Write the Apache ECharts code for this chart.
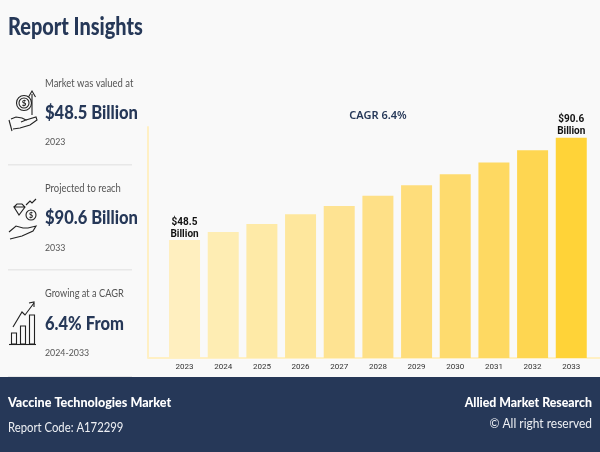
<!DOCTYPE html>
<html>
<head>
<meta charset="utf-8">
<style>html,body{margin:0;padding:0;background:#f9f9f9}#main{width:600px;height:452px}</style>
<script src="https://cdn.jsdelivr.net/npm/echarts@6/dist/echarts.min.js"></script>
</head>
<body>
<div id="main"></div>
<script>
var years=['2023','2024','2025','2026','2027','2028','2029','2030','2031','2032','2033'];
var marketValues=[48.5,51.8,55.1,59.1,62.5,66.7,71,75.6,80.4,85.4,90.6];
var barLabels={'2023':'$48.5\nBillion','2033':'$90.6\nBillion'};
var barColors=['#ffefbf','#feedb3','#feeaa7','#fee79d','#fee392','#fee087','#fedd7b','#fedb6e','#fed962','#fed651','#ffd338'];

var navy='#263858',grey='#555555',ink='#222222',font='Lato',labelFont='Roboto';

// squeeze = horizontal scale, the original lettering is narrower than Lato
function text(x,y,str,size,weight,color,align,squeeze,family){
    return {type:'text',x:x,y:y,scaleX:squeeze||1,silent:true,style:{text:str,fontFamily:family||font,fontSize:size,fontWeight:weight,fill:color,align:align||'left',verticalAlign:'middle'}};
}
function stroke(points){
    return {type:'polyline',silent:true,shape:{points:points},style:{stroke:ink,lineWidth:1.1,fill:null}};
}
function ring(x,y,r){
    return {type:'circle',silent:true,shape:{cx:x,cy:y,r:r},style:{stroke:ink,lineWidth:1.1,fill:'none'}};
}
function bar(x,y,w,h){
    return {type:'rect',silent:true,shape:{x:x,y:y,width:w,height:h},style:{stroke:ink,lineWidth:1.1,fill:'none'}};
}
function block(x,y,w,h,color){
    return {type:'rect',silent:true,shape:{x:x,y:y,width:w,height:h},style:{fill:color}};
}

var panel=[
    text(8,27,'Report Insights',24,900,navy,'left',0.83),
    text(45,84,'Market was valued at',10.5,400,grey,'left',0.9),
    text(45,113,'$48.5 Billion',19,900,navy,'left',0.87),
    text(45,142,'2023',10,400,grey,'left',0.88),
    block(8,164,124,1.5,'#e8e8e8'),
    text(45,189,'Projected to reach',10.5,400,grey,'left',0.9),
    text(45,218,'$90.6 Billion',19,900,navy,'left',0.87),
    text(45,248,'2033',10,400,grey,'left',0.88),
    block(8,269,124,1.5,'#e8e8e8'),
    text(45,294,'Growing at a CAGR',10.5,400,grey,'left',0.88),
    text(45,324,'6.4% From',19,900,navy,'left',0.87),
    text(45,353,'2024-2033',10,400,grey,'left',0.88),
    block(8,376,124,1,'#e8e8e8'),
    block(148,357,452,2,'#fff0c4'),
    text(378,116,'CAGR 6.4%',11,600,navy,'center',1,'"Noto Sans"'),
    block(0,377,600,75,navy),
    text(8,403,'Vaccine Technologies Market',13.5,900,'#ffffff','left',0.93),
    text(8,428,'Report Code: A172299',13,400,'#eef0f4','left',0.87),
    text(592,403,'Allied Market Research',13.5,900,'#ffffff','right',0.91),
    text(592,424,'\u00a9 All right reserved',13,400,'#eef0f4','right',0.92)
];

var icons=[
    // coin in hand
    ring(24,103,7.5),ring(24,103,5),text(24,103.5,'$',8,700,ink,'center'),
    stroke([[32,115],[32,94]]),stroke([[28.5,97],[32,91],[35.5,97]]),
    stroke([[9,120],[12,131]]),
    stroke([[11,119],[16,117],[22,118],[26,120],[21,122]]),
    stroke([[26,120],[36,117],[37,120],[30,125],[20,128],[13,129]]),
    // gem and coin in hand
    stroke([[14,207],[17,204],[22,204],[25,207],[19,215],[14,207],[25,207]]),
    ring(31,215,5),text(31,215.5,'$',7,700,ink,'center'),
    stroke([[26,205],[30,201],[32,203],[36,199]]),
    stroke([[9,232],[16,226],[23,228],[28,228],[36,226],[33,231],[22,236],[10,239]]),
    // growing bars
    bar(11.5,333,5,11),bar(20.5,326,5,18),bar(29.5,315,5,29),
    stroke([[9,344.5],[36,344.5]]),
    stroke([[13,327],[22,312],[25,315],[34,303]]),stroke([[29,303],[34,302],[34,307]])
];

var main=document.getElementById('main');
var mychart=echarts.init(main);
var option={
    backgroundColor:'#f9f9f9',
    animation:false,
    grid:{left:165.2,width:425.4,top:127,height:231},
    xAxis:{type:'category',data:years,
        axisLine:{show:false},axisTick:{show:false},
        axisLabel:{color:'#333',fontFamily:labelFont,fontSize:8,margin:5}},
    yAxis:{type:'value',min:0,max:95,offset:17,
        axisLine:{show:true,lineStyle:{color:'#fff0c4',width:2}},
        axisTick:{show:false},axisLabel:{show:false},splitLine:{show:false}},
    series:[{type:'bar',barWidth:31,
        data:marketValues.map(function(v,i){
            return {value:v,itemStyle:{color:barColors[i]}};
        }),
        label:{show:true,position:'top',distance:0,color:'#111',fontFamily:labelFont,fontWeight:700,fontSize:10,lineHeight:12,
            formatter:function(p){return barLabels[p.name]||'';}}
    }],
    graphic:panel.concat(icons)
};
mychart.setOption(option);
</script>
</body>
</html>
